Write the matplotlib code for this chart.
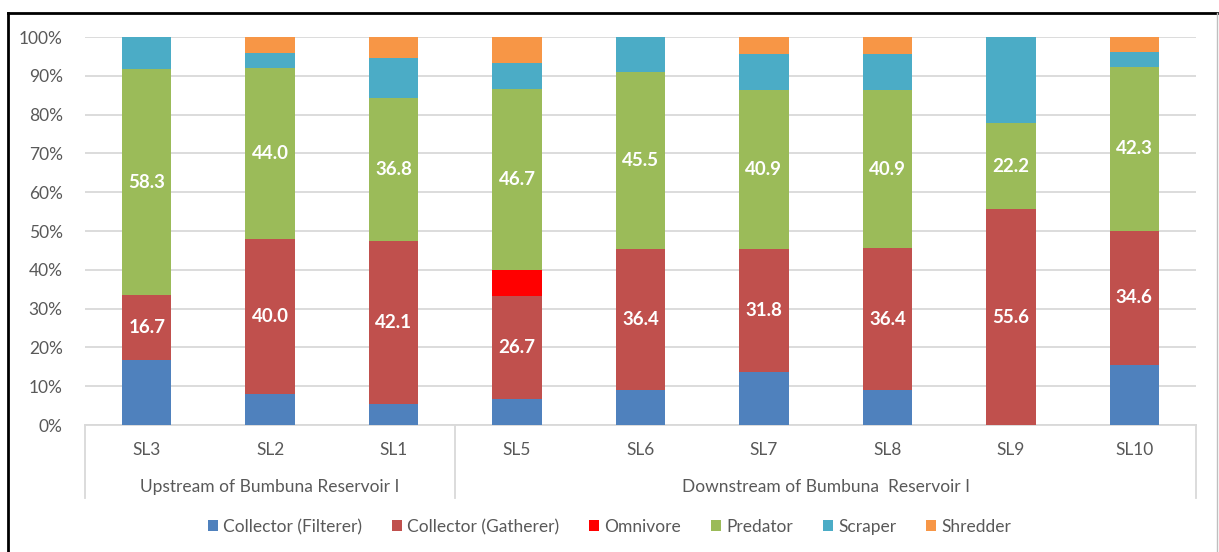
import matplotlib
matplotlib.use("Agg")
import matplotlib.pyplot as plt
from matplotlib.patches import Patch
from matplotlib.lines import Line2D
import numpy as np

plt.rcParams['font.family'] = ['Lato', 'DejaVu Sans']

sites = ["SL3", "SL2", "SL1", "SL5", "SL6", "SL7", "SL8", "SL9", "SL10"]
groups = ["Upstream of Bumbuna Reservoir I", "Downstream of Bumbuna  Reservoir I"]
group_sizes = [3, 6]

filterer = [16.7, 8.0, 5.3, 6.7, 9.1, 13.6, 9.1, 0.0, 15.4]
gatherer = [16.7, 40.0, 42.1, 26.7, 36.4, 31.8, 36.4, 55.6, 34.6]
omnivore = [0.0, 0.0, 0.0, 6.7, 0.0, 0.0, 0.0, 0.0, 0.0]
predator = [58.3, 44.0, 36.8, 46.7, 45.5, 40.9, 40.9, 22.2, 42.3]
scraper = [8.3, 4.0, 10.5, 6.7, 9.1, 9.1, 9.1, 22.2, 3.8]
shredder = [0.0, 4.0, 5.3, 6.7, 0.0, 4.5, 4.5, 0.0, 3.8]

series = [
    ("Collector (Filterer)", filterer, "#4F81BD", False),
    ("Collector (Gatherer)", gatherer, "#C0504D", True),
    ("Omnivore", omnivore, "#FF0000", False),
    ("Predator", predator, "#9BBB59", True),
    ("Scraper", scraper, "#4BACC6", False),
    ("Shredder", shredder, "#F79646", False),
]

TXT = 12.5
W, H = 1219, 552
fig = plt.figure(figsize=(W / 100, H / 100), dpi=100)
ax = fig.add_axes([85 / W, (H - 425) / H, (1196 - 85) / W, (425 - 37) / H])

x = np.arange(len(sites))
totals = np.sum([np.array(s[1]) for s in series], axis=0)
bottom = np.zeros(len(sites))
for name, vals, color, labelled in series:
    v = np.array(vals) / totals * 100
    ax.bar(x, v, 0.4, bottom=bottom, color=color, edgecolor="none", zorder=3)
    if labelled:
        for xi, bi, vi, raw in zip(x, bottom, v, vals):
            if raw > 0:
                ax.text(xi, bi + vi / 2, f"{raw:.1f}", ha="center", va="center",
                        color="white", fontsize=13.5, fontweight="bold", zorder=4)
    bottom += v

ax.set_xlim(-0.5, len(sites) - 0.5)
ax.set_ylim(0, 100)
ax.set_yticks(np.arange(0, 101, 10))
ax.set_yticklabels([f"{t}%" for t in range(0, 101, 10)], fontsize=TXT, color="#595959")
ax.tick_params(axis="y", length=0, pad=16)
ax.tick_params(axis="x", length=0, labelbottom=False)
ax.grid(axis="y", color="#D9D9D9", linewidth=1.3, zorder=0)
for sp in ["top", "right", "left"]:
    ax.spines[sp].set_visible(False)
ax.spines["bottom"].set_color("#D9D9D9")
ax.spines["bottom"].set_linewidth(1.3)

trans = ax.get_xaxis_transform()
# category labels
for xi, s in zip(x, sites):
    ax.text(xi, -(450 - 425) / (425 - 37), s, transform=trans, ha="center", va="center",
            fontsize=TXT, color="#595959")
# group labels and separators
bounds = np.concatenate([[0], np.cumsum(group_sizes)]) - 0.5
sep_bottom = -(498 - 425) / (425 - 37)
for b in bounds:
    ax.add_line(Line2D([b, b], [0, sep_bottom], transform=trans, color="#D9D9D9",
                       linewidth=1.3, clip_on=False))
for g, lo, hi in zip(groups, bounds[:-1], bounds[1:]):
    ax.text((lo + hi) / 2, -(487 - 425) / (425 - 37), g, transform=trans,
            ha="center", va="center", fontsize=TXT, color="#595959")

handles = [Patch(facecolor=c, edgecolor="none", label=n) for n, _, c, _ in series]
fig.legend(handles=handles, loc="center", bbox_to_anchor=(0.5, (H - 527) / H),
           ncol=6, frameon=False, fontsize=TXT, labelcolor="#595959",
           handlelength=0.6, handleheight=0.6, handletextpad=0.3, columnspacing=1.7)

# outer frame
fig.add_artist(Line2D([8 / W, 8 / W], [0, (H - 13) / H], color="black", linewidth=2))
fig.add_artist(Line2D([8 / W, 1217 / W], [(H - 13) / H, (H - 13) / H], color="black", linewidth=2))
fig.add_artist(Line2D([1217 / W, 1217 / W], [0, (H - 13) / H], color="#BFBFBF", linewidth=1))

fig.savefig("out.png", dpi=100, facecolor="white")
